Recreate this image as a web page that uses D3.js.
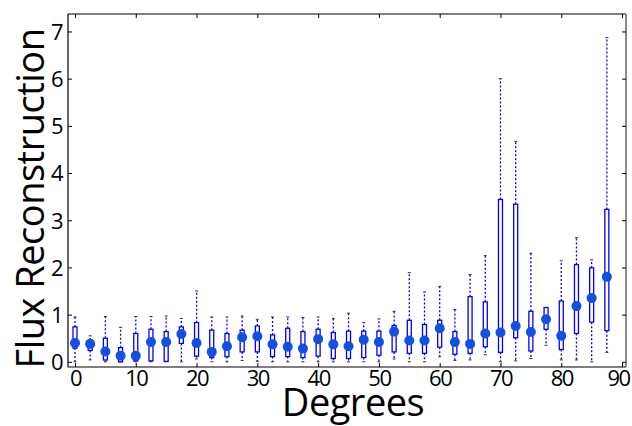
<!DOCTYPE html>
<html>
<head>
<meta charset="utf-8">
<script src="https://cdn.jsdelivr.net/npm/d3@7"></script>
<style>
  body { margin: 0; background: #fff; }
  svg { display: block; font-family: "Open Sans", sans-serif; }
</style>
</head>
<body>
<div id="chart"></div>
<script>
// ============================================================
//  DATA — one box per 2.5 degrees
// ============================================================
const positions = d3.range(36).map(i => i * 2.5);

const whiskerLow = [0.00, 0.04, 0.00, 0.00, 0.00, 0.00, 0.00, 0.00, 0.06,
                    0.00, 0.00, 0.03, 0.01, 0.00, 0.00, 0.00, 0.00, 0.00,
                    0.00, 0.00, 0.00, 0.06, 0.00, 0.00, 0.11, 0.03, 0.04,
                    0.15, 0.00, 0.02, 0.07, 0.35, 0.04, 0.04, 0.00, 0.20];
const q1 =         [0.29, 0.24, 0.04, 0.00, 0.02, 0.02, 0.01, 0.39, 0.12,
                    0.09, 0.11, 0.21, 0.21, 0.11, 0.11, 0.09, 0.12, 0.07,
                    0.07, 0.09, 0.14, 0.21, 0.18, 0.18, 0.31, 0.16, 0.18,
                    0.32, 0.20, 0.51, 0.23, 0.69, 0.26, 0.60, 0.84, 0.66];
const centre =     [0.40, 0.38, 0.22, 0.13, 0.13, 0.42, 0.42, 0.59, 0.40,
                    0.21, 0.33, 0.52, 0.54, 0.37, 0.32, 0.28, 0.48, 0.37,
                    0.33, 0.47, 0.42, 0.64, 0.45, 0.45, 0.71, 0.42, 0.38,
                    0.60, 0.62, 0.76, 0.63, 0.90, 0.55, 1.18, 1.35, 1.80];
const q3 =         [0.74, 0.46, 0.50, 0.30, 0.60, 0.69, 0.64, 0.74, 0.83,
                    0.67, 0.60, 0.67, 0.76, 0.57, 0.71, 0.64, 0.69, 0.62,
                    0.65, 0.65, 0.65, 0.77, 0.88, 0.79, 0.88, 0.64, 1.38,
                    1.27, 3.44, 3.34, 1.07, 1.15, 1.29, 2.06, 1.99, 3.23];
const whiskerHigh = [0.95, 0.55, 0.96, 0.73, 0.96, 0.96, 0.97, 0.92, 1.50,
                     0.95, 0.95, 0.97, 0.90, 0.95, 0.95, 0.94, 0.95, 0.92,
                     1.03, 0.83, 0.91, 1.07, 1.89, 1.48, 1.60, 1.11, 1.85,
                     2.25, 6.00, 4.67, 2.30, 1.15, 2.14, 2.63, 2.16, 6.87];

const xTicks = d3.range(0, 91, 10);
const yTicks = d3.range(0, 8, 1);

// ============================================================
//  CONFIG
// ============================================================
const CONFIG = {
    WIDTH: 632,
    HEIGHT: 426,
    LEFT: 68, RIGHT: 626, TOP: 14, BOTTOM: 367,
    X_DOMAIN: [-1.15, 90.65],
    Y_DOMAIN: [-0.11, 7.37],
    BOX_W: 4,
    CAP_W: 3,
    DOT_R: 5,
    BOX_COLOR: "#0000ff",
    DOT_COLOR: "#1450e0",
    TICK_SIZE: 22,
    LABEL_SIZE: 38,
};

const svg = d3.select("#chart").append("svg")
    .attr("width", CONFIG.WIDTH)
    .attr("height", CONFIG.HEIGHT);

const x = d3.scaleLinear().domain(CONFIG.X_DOMAIN).range([CONFIG.LEFT, CONFIG.RIGHT]);
const y = d3.scaleLinear().domain(CONFIG.Y_DOMAIN).range([CONFIG.BOTTOM, CONFIG.TOP]);

const boxes = positions.map((p, i) => ({
    pos: p, lo: whiskerLow[i], q1: q1[i], mid: centre[i], q3: q3[i], hi: whiskerHigh[i]
}));

// --- Whiskers (dashed) ---
const g = svg.append("g");
g.selectAll("line.wh-up").data(boxes).join("line")
    .attr("x1", d => x(d.pos)).attr("x2", d => x(d.pos))
    .attr("y1", d => y(d.q3)).attr("y2", d => y(d.hi))
    .attr("stroke", CONFIG.BOX_COLOR).attr("stroke-width", 1.3)
    .attr("stroke-dasharray", "2,2");
g.selectAll("line.wh-lo").data(boxes).join("line")
    .attr("x1", d => x(d.pos)).attr("x2", d => x(d.pos))
    .attr("y1", d => y(d.q1)).attr("y2", d => y(d.lo))
    .attr("stroke", CONFIG.BOX_COLOR).attr("stroke-width", 1.3)
    .attr("stroke-dasharray", "2,2");

// --- Caps (small black dashes) ---
["hi", "lo"].forEach(k => {
    g.selectAll(`line.cap-${k}`).data(boxes).join("line")
        .attr("x1", d => x(d.pos) - CONFIG.CAP_W / 2)
        .attr("x2", d => x(d.pos) + CONFIG.CAP_W / 2)
        .attr("y1", d => y(d[k])).attr("y2", d => y(d[k]))
        .attr("stroke", "#333").attr("stroke-width", 1);
});

// --- Boxes ---
g.selectAll("rect.box").data(boxes).join("rect")
    .attr("x", d => x(d.pos) - CONFIG.BOX_W / 2)
    .attr("width", CONFIG.BOX_W)
    .attr("y", d => y(d.q3))
    .attr("height", d => y(d.q1) - y(d.q3))
    .attr("fill", "#fff")
    .attr("stroke", CONFIG.BOX_COLOR).attr("stroke-width", 1.3);

// --- Centre dots ---
g.selectAll("circle").data(boxes).join("circle")
    .attr("cx", d => x(d.pos)).attr("cy", d => y(d.mid))
    .attr("r", CONFIG.DOT_R)
    .attr("fill", CONFIG.DOT_COLOR);

// --- Frame ---
svg.append("line").attr("x1", CONFIG.LEFT).attr("x2", CONFIG.LEFT)
    .attr("y1", CONFIG.TOP).attr("y2", CONFIG.BOTTOM).attr("stroke", "#000").attr("stroke-width", 1.2);
svg.append("line").attr("x1", CONFIG.LEFT).attr("x2", CONFIG.RIGHT)
    .attr("y1", CONFIG.BOTTOM).attr("y2", CONFIG.BOTTOM).attr("stroke", "#000").attr("stroke-width", 1.2);
svg.append("line").attr("x1", CONFIG.LEFT).attr("x2", CONFIG.RIGHT)
    .attr("y1", CONFIG.TOP).attr("y2", CONFIG.TOP).attr("stroke", "#000").attr("stroke-width", 1.2);
svg.append("line").attr("x1", CONFIG.RIGHT).attr("x2", CONFIG.RIGHT)
    .attr("y1", CONFIG.TOP).attr("y2", CONFIG.BOTTOM).attr("stroke", "#888").attr("stroke-width", 2);

// --- Axes (ticks inside, matplotlib style) ---
const yAxis = svg.append("g")
    .attr("transform", `translate(${CONFIG.LEFT},0)`)
    .call(d3.axisLeft(y).tickValues(yTicks).tickSize(-4).tickPadding(6).tickFormat(d3.format("d")));
const yAxisR = svg.append("g")
    .attr("transform", `translate(${CONFIG.RIGHT},0)`)
    .call(d3.axisRight(y).tickValues(yTicks).tickSize(-4).tickFormat(""));
const xAxis = svg.append("g")
    .attr("transform", `translate(0,${CONFIG.BOTTOM})`)
    .call(d3.axisBottom(x).tickValues(xTicks).tickSize(-4).tickPadding(3).tickFormat(d3.format("d")));
const xAxisT = svg.append("g")
    .attr("transform", `translate(0,${CONFIG.TOP})`)
    .call(d3.axisTop(x).tickValues(xTicks).tickSize(-4).tickFormat(""));

[yAxis, yAxisR, xAxis, xAxisT].forEach(a => {
    a.select(".domain").remove();
    a.selectAll(".tick line").attr("stroke", "#000");
});
[yAxis, xAxis].forEach(a => {
    a.selectAll(".tick text")
        .attr("fill", "#000")
        .style("font-family", "Open Sans")
        .style("font-size", CONFIG.TICK_SIZE + "px")
        .style("letter-spacing", "-1.5px");
});
yAxis.selectAll(".tick text").attr("dy", "0.36em");
xAxis.selectAll(".tick text").attr("dy", "0.72em");
// keep the last label inside the picture
xAxis.selectAll(".tick text").filter(d => d === 90).attr("dx", "-4");

// --- Axis labels ---
svg.append("text")
    .attr("x", (CONFIG.LEFT + CONFIG.RIGHT) / 2 + 6)
    .attr("y", 416)
    .attr("text-anchor", "middle")
    .style("font-size", CONFIG.LABEL_SIZE + "px")
    .style("letter-spacing", "-0.5px")
    .text("Degrees");

svg.append("text")
    .attr("transform", `translate(44,${(CONFIG.TOP + CONFIG.BOTTOM) / 2 + 8}) rotate(-90)`)
    .attr("text-anchor", "middle")
    .style("font-size", CONFIG.LABEL_SIZE + "px")
    .style("letter-spacing", "-0.5px")
    .text("Flux Reconstruction");
</script>
</body>
</html>
